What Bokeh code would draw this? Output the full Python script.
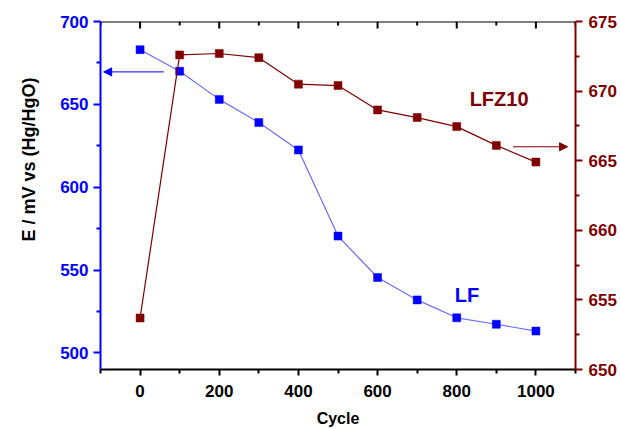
from bokeh.plotting import figure
from bokeh.models import (LinearAxis, Range1d, FixedTicker, Label, Arrow, NormalHead, Span, Title)
from bokeh.embed import file_html
from bokeh.resources import INLINE

# ---- data ----
cycles = [0, 100, 200, 300, 400, 500, 600, 700, 800, 900, 1000]
lf = [683, 670, 653, 639, 622.5, 570.5, 545.5, 532, 521.2, 517.3, 513.2]
lfz10 = [653.7, 672.6, 672.7, 672.4, 670.5, 670.4, 668.65, 668.1, 667.45, 666.1, 664.9]

x_ticks = [0, 200, 400, 600, 800, 1000]
x_minor = [-100, 100, 300, 500, 700, 900, 1100]
left_ticks = [500, 550, 600, 650, 700]
left_minor = [525, 575, 625, 675]
right_ticks = [650, 655, 660, 665, 670, 675]
right_minor = [652.5, 657.5, 662.5, 667.5, 672.5]

BLUE = "#0000FF"
LINE_BLUE = "#6B6BFF"
RED = "#800000"
FONT = "Liberation Sans"

Y0, Y1 = 490, 700
p = figure(width=620, height=429, output_backend="svg", toolbar_location=None,
           x_range=Range1d(-100, 1100), y_range=Range1d(Y0, Y1),
           min_border_left=100, min_border_right=45, min_border_top=21, min_border_bottom=58)
p.extra_y_ranges = {"right": Range1d(650, 675)}
p.grid.visible = False
p.outline_line_color = None
p.background_fill_color = "white"
p.border_fill_color = "white"

# bottom axis
xa = p.xaxis[0]
xa.ticker = FixedTicker(ticks=x_ticks, minor_ticks=x_minor)
xa.axis_line_color = "black"
xa.axis_line_width = 2
xa.major_tick_line_color = "black"
xa.minor_tick_line_color = "black"
xa.major_tick_line_width = 2
xa.minor_tick_line_width = 2
xa.major_tick_in = 0
xa.major_tick_out = 6
xa.minor_tick_in = 0
xa.minor_tick_out = 4
xa.major_label_standoff = 9
xa.major_label_text_font = FONT
xa.major_label_text_font_style = "bold"
xa.major_label_text_font_size = "17px"
xa.major_label_text_color = "black"
xa.axis_label = "Cycle"
xa.axis_label_text_font = FONT
xa.axis_label_text_font_style = "bold"
xa.axis_label_text_font_size = "16px"
xa.axis_label_text_color = "black"
xa.axis_label_standoff = 10

# left axis
ya = p.yaxis[0]
ya.ticker = FixedTicker(ticks=left_ticks, minor_ticks=left_minor)
ya.axis_line_color = BLUE
ya.axis_line_width = 2
ya.major_tick_line_color = BLUE
ya.minor_tick_line_color = BLUE
ya.major_tick_line_width = 2
ya.minor_tick_line_width = 2
ya.major_tick_in = 0
ya.major_tick_out = 7
ya.minor_tick_in = 0
ya.minor_tick_out = 4
ya.major_label_standoff = 5
ya.major_label_text_font = FONT
ya.major_label_text_font_style = "bold"
ya.major_label_text_font_size = "17px"
ya.major_label_text_color = BLUE

# right axis
ra = LinearAxis(y_range_name="right",
                ticker=FixedTicker(ticks=right_ticks, minor_ticks=right_minor))
ra.axis_line_color = RED
ra.axis_line_width = 2
ra.major_tick_line_color = RED
ra.minor_tick_line_color = RED
ra.major_tick_line_width = 2
ra.minor_tick_line_width = 2
ra.major_tick_in = 0
ra.major_tick_out = 7
ra.minor_tick_in = 0
ra.minor_tick_out = 4
ra.major_label_standoff = 6
ra.major_label_text_font = FONT
ra.major_label_text_font_style = "bold"
ra.major_label_text_font_size = "17px"
ra.major_label_text_color = RED
p.add_layout(ra, "right")

# left axis title, shifted upward and outward as in the reference
p.add_layout(Title(text="E / mV vs (Hg/HgO)", align="left", offset=128, standoff=34,
                   vertical_align="top",
                   text_font=FONT, text_font_style="bold", text_font_size="18px",
                   text_color="black"), "left")

# top frame line with inward ticks
p.add_layout(Span(location=Y1, dimension="width", line_color="black", line_width=2))
px_per_unit = 350 / (Y1 - Y0)
p.segment(x0=x_ticks, y0=[Y1] * len(x_ticks), x1=x_ticks, y1=[Y1 - 7 / px_per_unit] * len(x_ticks),
          line_color="black", line_width=2)
p.segment(x0=x_minor, y0=[Y1] * len(x_minor), x1=x_minor, y1=[Y1 - 4 / px_per_unit] * len(x_minor),
          line_color="black", line_width=2)

# series
p.line(cycles, lf, line_color=LINE_BLUE, line_width=1.2)
p.scatter(cycles, lf, marker="square", size=8, fill_color=BLUE, line_color=BLUE, line_width=0.5)
p.line(cycles, lfz10, line_color=RED, line_width=1.2, y_range_name="right")
p.scatter(cycles, lfz10, marker="square", size=8, fill_color=RED, line_color=RED, line_width=0.5,
          y_range_name="right")

# arrows
p.add_layout(Arrow(end=NormalHead(size=8, fill_color=BLUE, line_color=BLUE),
                   x_start=60, y_start=669.6, x_end=-92, y_end=669.6,
                   line_color=BLUE, line_width=1))
p.add_layout(Arrow(end=NormalHead(size=8, fill_color=RED, line_color=RED),
                   x_start=942, y_start=666.0, x_end=1080, y_end=666.0,
                   line_color=RED, line_width=1, y_range_name="right"))

# series labels
p.add_layout(Label(x=907, y=669.4, y_range_name="right", text="LFZ10",
                   text_font=FONT, text_font_style="bold", text_font_size="20px",
                   text_color=RED, text_align="center", text_baseline="middle"))
p.add_layout(Label(x=826, y=535, text="LF",
                   text_font=FONT, text_font_style="bold", text_font_size="20px",
                   text_color=BLUE, text_align="center", text_baseline="middle"))

open("out.html", "w").write(file_html(p, INLINE))
